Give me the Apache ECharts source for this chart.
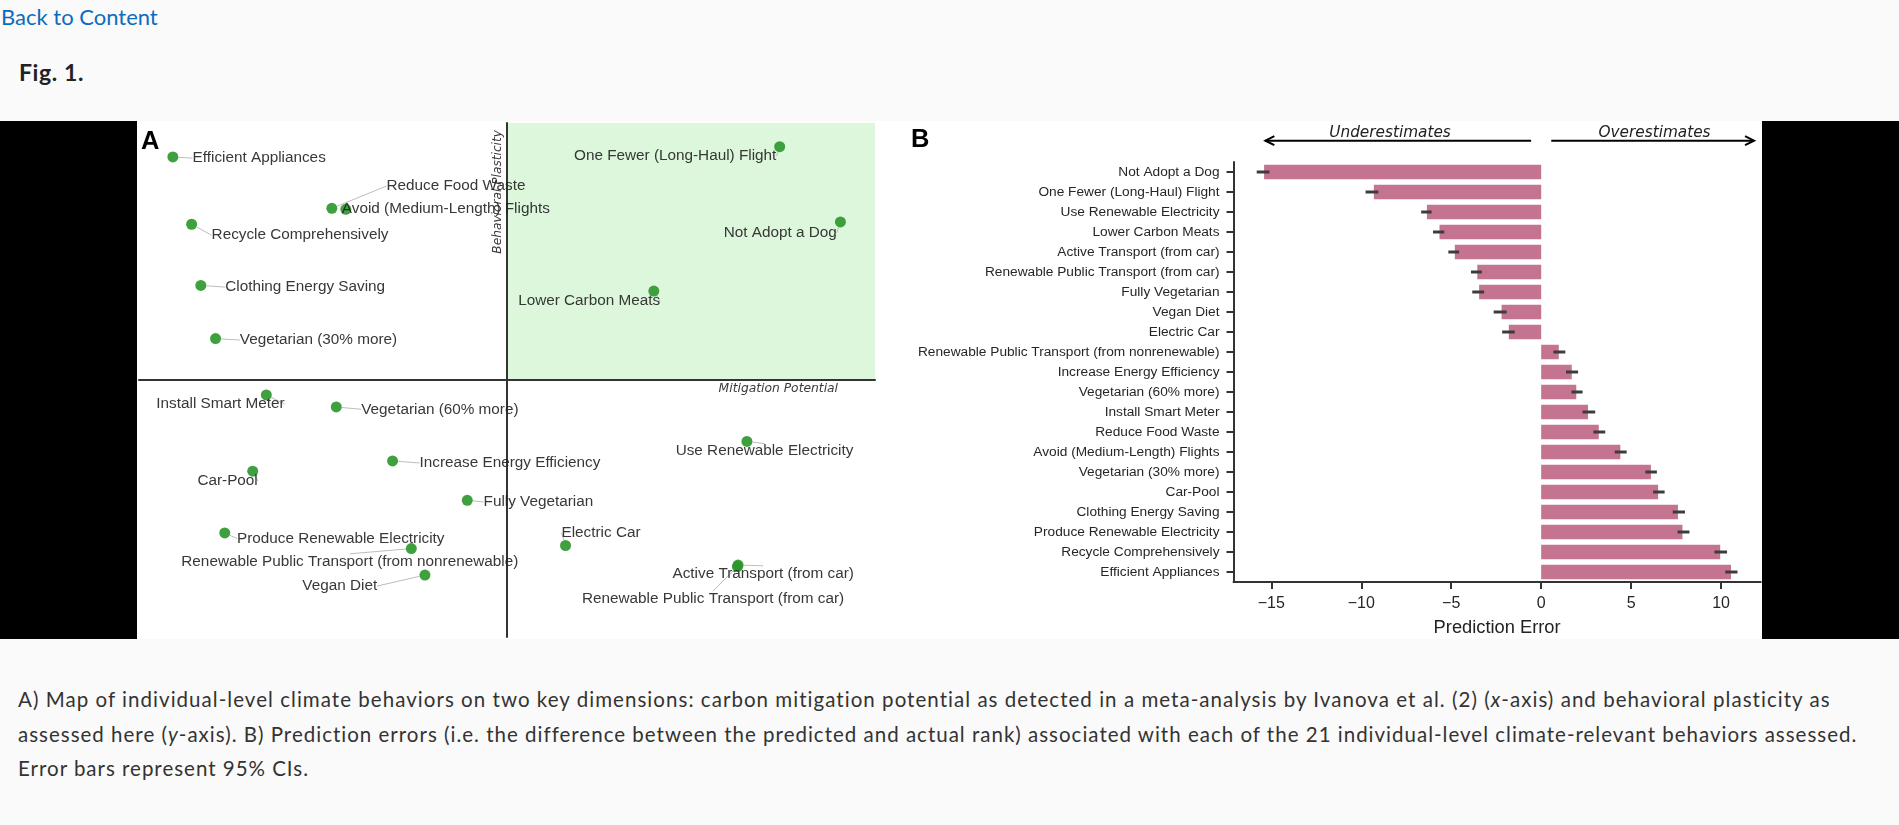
<!DOCTYPE html>
<html>
<head>
<meta charset="utf-8">
<script src="https://cdn.jsdelivr.net/npm/echarts@6/dist/echarts.min.js"></script>
<style>
html,body{margin:0;padding:0;background:#fafafa;width:1899px;height:825px;overflow:hidden;font-family:'Lato','Noto Sans',sans-serif;}
#back{position:absolute;left:1px;top:2px;font-size:22px;line-height:30px;color:#0b6cbf;white-space:nowrap;}
#fig{position:absolute;left:19px;top:57px;font-size:23px;line-height:30px;font-weight:bold;color:#222;white-space:nowrap;letter-spacing:0.6px;}
#band{position:absolute;left:0;top:121px;width:1899px;height:518px;background:#000;}
#chart{position:absolute;left:137px;top:121px;width:1625px;height:518px;background:#fff;}
#cap{position:absolute;left:18px;top:682px;font-size:20.5px;line-height:34.5px;color:#333;}
#cap span{display:inline-block;white-space:nowrap;}
</style>
</head>
<body>
<div id="back">Back to Content</div>
<div id="fig">Fig. 1.</div>
<div id="band"></div>
<div id="chart"></div>
<div id="cap">
<span class="ln" data-w="1813">A) Map of individual-level climate behaviors on two key dimensions: carbon mitigation potential as detected in a meta-analysis by Ivanova et al. (2) (<i>x</i>-axis) and behavioral plasticity as</span><br>
<span class="ln" data-w="1838">assessed here (<i>y</i>-axis). B) Prediction errors (i.e. the difference between the predicted and actual rank) associated with each of the 21 individual-level climate-relevant behaviors assessed.</span><br>
<span class="ln" data-w="290">Error bars represent 95% CIs.</span>
</div>
<script>
// ---------- Panel A data ----------
const behaviorsA = [
  'Efficient Appliances', 'Reduce Food Waste', 'Avoid (Medium-Length) Flights',
  'Recycle Comprehensively', 'Clothing Energy Saving', 'Vegetarian (30% more)',
  'One Fewer (Long-Haul) Flight', 'Not Adopt a Dog', 'Lower Carbon Meats',
  'Install Smart Meter', 'Vegetarian (60% more)', 'Increase Energy Efficiency',
  'Car-Pool', 'Fully Vegetarian', 'Produce Renewable Electricity',
  'Renewable Public Transport (from nonrenewable)', 'Vegan Diet',
  'Use Renewable Electricity', 'Electric Car', 'Active Transport (from car)',
  'Renewable Public Transport (from car)'
];
const mitigation = [
  -0.908, -0.476, -0.438, -0.857, -0.832, -0.792,
   0.741,  0.906,  0.399, -0.654, -0.464, -0.311,
  -0.691, -0.108, -0.767, -0.260, -0.223,
   0.652,  0.159,  0.628,  0.626
];
const plasticity = [
   0.868,  0.668,  0.664,  0.606,  0.368,  0.161,
   0.908,  0.615,  0.346, -0.058, -0.105, -0.315,
  -0.355, -0.468, -0.595, -0.656, -0.759,
  -0.239, -0.644, -0.720, -0.726
];

// ---------- Panel B data ----------
const categoriesB = [
  'Not Adopt a Dog', 'One Fewer (Long-Haul) Flight', 'Use Renewable Electricity',
  'Lower Carbon Meats', 'Active Transport (from car)', 'Renewable Public Transport (from car)',
  'Fully Vegetarian', 'Vegan Diet', 'Electric Car',
  'Renewable Public Transport (from nonrenewable)', 'Increase Energy Efficiency',
  'Vegetarian (60% more)', 'Install Smart Meter', 'Reduce Food Waste',
  'Avoid (Medium-Length) Flights', 'Vegetarian (30% more)', 'Car-Pool',
  'Clothing Energy Saving', 'Produce Renewable Electricity',
  'Recycle Comprehensively', 'Efficient Appliances'
];
const predictionError = [
  -15.4, -9.3, -6.35, -5.65, -4.8, -3.55, -3.45, -2.2, -1.8,
   0.98, 1.7, 1.95, 2.6, 3.2, 4.4, 6.1, 6.5, 7.6, 7.85, 9.95, 10.55
];
const ciLow = [
  -15.81, -9.76, -6.67, -6.01, -5.16, -3.90, -3.83, -2.64, -2.17,
   0.68, 1.38, 1.68, 2.30, 2.90, 4.09, 5.79, 6.22, 7.31, 7.58, 9.63, 10.23
];
const ciHigh = [
  -15.10, -9.05, -6.09, -5.39, -4.56, -3.30, -3.17, -1.92, -1.47,
   1.34, 2.05, 2.30, 3.00, 3.56, 4.75, 6.43, 6.86, 7.99, 8.24, 10.33, 10.91
];
const tickValuesB = [-15, -10, -5, 0, 5, 10];

// ---------- styling (label placement for panel A, in px offsets) ----------
const labelShift = [
  [19.7, 1.3], [54.7, -22.3], [-4, -1], [20, 11], [24.4, 1.7], [24.3, 1.4],
  [-205.7, 9.4], [-116.7, 11], [-135.7, 10], [-110, 9.3], [25, 2.3], [27, 2],
  [-55.3, 9.7], [16.3, 1.7], [12.3, 5.6], [-230, 12.7], [-122.6, 11],
  [-71.3, 9.7], [-4, -13], [-65.6, 8.3], [-155.4, 32]
];
const ARIAL = 'Liberation Sans, Arial, sans-serif';
const DEJAVU = 'DejaVu Sans, sans-serif';
const AXIS_COLOR = '#333';

const chart = echarts.init(document.getElementById('chart'), null, {renderer: 'canvas'});

const option = {
  animation: false,
  backgroundColor: '#fff',
  grid: [
    {left: 2, top: 2, width: 736, height: 514, outerBoundsMode: 'none', containLabel: false},
    {left: 1096.5, top: 41, width: 527.2, height: 420, outerBoundsMode: 'none', containLabel: false}
  ],
  xAxis: [
    {
      gridIndex: 0, type: 'value', min: -1, max: 1, z: 2,
      axisLine: {show: true, onZero: true, lineStyle: {color: AXIS_COLOR, width: 2}},
      axisTick: {show: false}, axisLabel: {show: false}, splitLine: {show: false},
      name: 'Mitigation Potential', nameLocation: 'end', nameGap: -37, nameMoveOverlap: false,
      nameTextStyle: {align: 'right', verticalAlign: 'top', padding: [3, 0, 0, 0],
        fontFamily: DEJAVU, fontStyle: 'italic', fontSize: 12.3, color: '#3a3a3a'}
    },
    {
      gridIndex: 1, type: 'value', min: -17.1, max: 12.2,
      axisLine: {show: true, onZero: false, lineStyle: {color: AXIS_COLOR, width: 2}},
      axisTick: {show: true, length: 7, customValues: tickValuesB, lineStyle: {color: AXIS_COLOR, width: 2}},
      axisLabel: {show: true, customValues: tickValuesB, margin: 14, fontSize: 16, color: '#262626', fontFamily: ARIAL,
        formatter: v => (v < 0 ? '\u2212' + Math.abs(v) : String(v))},
      splitLine: {show: false},
      name: 'Prediction Error', nameLocation: 'middle', nameGap: 37, nameMoveOverlap: false,
      nameTextStyle: {fontSize: 18.3, color: '#222', fontFamily: ARIAL}
    }
  ],
  yAxis: [
    {
      gridIndex: 0, type: 'value', min: -1, max: 1, z: 2,
      axisLine: {show: true, onZero: true, lineStyle: {color: AXIS_COLOR, width: 2}},
      axisTick: {show: false}, axisLabel: {show: false}, splitLine: {show: false},
      name: 'Behavioral Plasticity', nameLocation: 'end', nameRotate: 90, nameGap: -7, nameMoveOverlap: false,
      nameTextStyle: {align: 'right', verticalAlign: 'bottom', padding: [0, 0, 3, 0],
        fontFamily: DEJAVU, fontStyle: 'italic', fontSize: 12.2, color: '#3a3a3a'}
    },
    {
      gridIndex: 1, type: 'category', data: categoriesB, inverse: true,
      axisLine: {show: true, onZero: false, lineStyle: {color: AXIS_COLOR, width: 2}},
      axisTick: {show: true, alignWithLabel: true, length: 7, lineStyle: {color: AXIS_COLOR, width: 2}},
      axisLabel: {show: true, interval: 0, margin: 14, fontSize: 13.7, color: '#262626', fontFamily: ARIAL},
      splitLine: {show: false}
    }
  ],
  series: [
    {
      // top-right quadrant highlight
      type: 'scatter', xAxisIndex: 0, yAxisIndex: 0, data: [], z: 1, silent: true,
      markArea: {silent: true, itemStyle: {color: '#ddf7dd'}, data: [[{coord: [0, 0]}, {coord: [1, 1]}]]}
    },
    {
      type: 'scatter', xAxisIndex: 0, yAxisIndex: 0, z: 3,
      symbol: 'circle', symbolSize: 11,
      itemStyle: {color: '#2a962a', opacity: 0.9},
      data: behaviorsA.map((n, i) => ({name: n, value: [mitigation[i], plasticity[i]]})),
      label: {show: true, position: 'inside', align: 'left', verticalAlign: 'middle',
        formatter: p => p.name, fontSize: 15.3, color: '#222', fontFamily: ARIAL},
      labelLayout: p => ({dx: labelShift[p.dataIndex][0], dy: labelShift[p.dataIndex][1]}),
      labelLine: {show: true, lineStyle: {color: '#bdbdbd', width: 1}}
    },
    {
      type: 'bar', xAxisIndex: 1, yAxisIndex: 1, z: 2,
      data: predictionError, barWidth: 14.5,
      itemStyle: {color: '#c47391'}
    },
    {
      type: 'custom', xAxisIndex: 1, yAxisIndex: 1, z: 5,
      data: categoriesB.map((c, i) => [i, ciLow[i], ciHigh[i]]),
      encode: {y: 0, x: [1, 2]},
      renderItem: (params, api) => {
        const i = api.value(0);
        const a = api.coord([api.value(1), i]);
        const b = api.coord([api.value(2), i]);
        return {type: 'line', shape: {x1: a[0], y1: a[1], x2: b[0], y2: b[1]},
          style: {stroke: '#3c3c3c', lineWidth: 3}};
      }
    }
  ]
};
chart.setOption(option);

// ---------- annotations: panel letters and arrows ----------
const arrowSpans = {under: [-15.33, -0.56], over: [0.56, 11.83]};
const arrowTextAt = {under: -8.4, over: 6.3};
function px(v) { return chart.convertToPixel({xAxisIndex: 1}, v); }
const ARROW_Y = 19.7, TEXT_Y = 11.7, HEAD = 9, HEADH = 4.5;
const uL = px(arrowSpans.under[0]), uR = px(arrowSpans.under[1]);
const oL = px(arrowSpans.over[0]), oR = px(arrowSpans.over[1]);
const graphics = [
  {type: 'text', left: 4, top: 7.5, style: {text: 'A', font: 'bold 25.5px ' + ARIAL, fill: '#000'}},
  {type: 'text', left: 774, top: 5.5, style: {text: 'B', font: 'bold 25.5px ' + ARIAL, fill: '#000'}},
  {type: 'line', shape: {x1: uL, y1: ARROW_Y, x2: uR, y2: ARROW_Y}, style: {stroke: '#000', lineWidth: 2}},
  {type: 'polyline', shape: {points: [[uL + HEAD, ARROW_Y - HEADH], [uL, ARROW_Y], [uL + HEAD, ARROW_Y + HEADH]]}, style: {stroke: '#000', lineWidth: 2, fill: null}},
  {type: 'line', shape: {x1: oL, y1: ARROW_Y, x2: oR, y2: ARROW_Y}, style: {stroke: '#000', lineWidth: 2}},
  {type: 'polyline', shape: {points: [[oR - HEAD, ARROW_Y - HEADH], [oR, ARROW_Y], [oR - HEAD, ARROW_Y + HEADH]]}, style: {stroke: '#000', lineWidth: 2, fill: null}},
  {type: 'text', x: px(arrowTextAt.under), y: TEXT_Y, style: {text: 'Underestimates', fontFamily: DEJAVU, fontStyle: 'italic', fontSize: 15.3, fill: '#222', align: 'center', verticalAlign: 'middle'}},
  {type: 'text', x: px(arrowTextAt.over), y: TEXT_Y, style: {text: 'Overestimates', fontFamily: DEJAVU, fontStyle: 'italic', fontSize: 15.3, fill: '#222', align: 'center', verticalAlign: 'middle'}}
];
chart.setOption({graphic: graphics});

// ---------- fit caption lines to reference widths ----------
document.querySelectorAll('#cap .ln').forEach(el => {
  const target = +el.dataset.w;
  const w = el.getBoundingClientRect().width;
  const n = el.textContent.length;
  if (n > 1) el.style.letterSpacing = ((target - w) / (n - 1)) + 'px';
});
</script>
</body>
</html>
